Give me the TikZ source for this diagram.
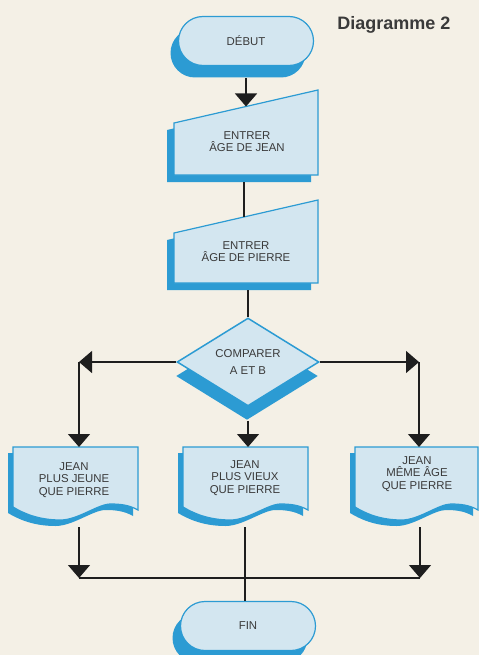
\documentclass[tikz,border=0pt]{standalone}
\usepackage{fontspec}
\setmainfont{Liberation Sans}
\usepackage{xcolor}
\definecolor{paper}{HTML}{F4F0E6}
\definecolor{pale}{HTML}{D3E6F0}
\definecolor{cyanb}{HTML}{2C9BD3}
\definecolor{ink}{HTML}{3A3A3A}
\definecolor{linec}{HTML}{1E1E1E}
\usetikzlibrary{positioning,arrows.meta,shapes.geometric,shapes.misc,shadows,calc}
\tikzset{
  >={Triangle[width=22pt,length=13pt]},
  txt/.style={font=\fontsize{11.4}{12.2}\selectfont,text=ink,align=center,inner sep=0pt},
  term/.style={rounded rectangle,draw=cyanb,fill=pale,line width=1.2pt,minimum width=135pt,
    minimum height=49pt,txt,drop shadow={shadow xshift=-8pt,shadow yshift=-12pt,fill=cyanb,opacity=1}},
  dec/.style={diamond,shape aspect=1.6,draw=cyanb,fill=pale,line width=1.5pt,minimum width=142pt,
    minimum height=88pt,txt,drop shadow={shadow xshift=-1pt,shadow yshift=-14pt,fill=cyanb,opacity=1}},
  inbox/.style={draw=cyanb,fill=pale,line width=1.2pt,
    drop shadow={shadow xshift=-7pt,shadow yshift=-7pt,fill=cyanb,opacity=1}},
  docbox/.style={draw=cyanb,fill=pale,line width=1.2pt,
    drop shadow={shadow xshift=-5pt,shadow yshift=-6pt,fill=cyanb,opacity=1}},
  flow/.style={->,draw=linec,line width=1.3pt},
  link/.style={draw=linec,line width=1.3pt},
}
\begin{document}
\begin{tikzpicture}[x=1pt,y=-1pt]
  \useasboundingbox (0,0) rectangle (479,655);
  \fill[paper] (0,0) rectangle (479,655);
  \node[font=\bfseries\fontsize{18}{20}\selectfont,text=ink,anchor=base] (title) at (394,30) {Diagramme 2};
  % start / end
  \node[term] (debut) at (246,41) {DÉBUT};
  \node[term] (fin) at (248,626) {FIN};
  % input boxes
  \filldraw[inbox] (174,123) -- (318,90) -- (318,175) -- (174,175) -- cycle;
  \filldraw[inbox] (174,233) -- (318,200) -- (318,283) -- (174,283) -- cycle;
  \node[txt] (jean) at (247,142) {ENTRER\\ÂGE DE JEAN};
  \node[txt] (pierre) at (246,252) {ENTRER\\ÂGE DE PIERRE};
  \coordinate (jean-n) at (246,106.5);
  \coordinate (jean-s) at (244,182);
  \coordinate (pierre-n) at (244,217);
  \coordinate (pierre-s) at (248,290);
  % decision
  \node[dec] (cmp) at (248,362) {COMPARER\\[4pt]A ET B};
  % result documents
  \foreach \L/\W in {13/125,183/125,355/123}{
    \begin{scope}[shift={(\L,447)}]
      \filldraw[docbox] (0,0) -- (\W,0) -- (\W,63)
        .. controls ({0.93*\W},58) and ({0.86*\W},57) .. ({0.78*\W},57)
        .. controls ({0.68*\W},57) and ({0.52*\W},73) .. ({0.38*\W},73)
        .. controls ({0.2*\W},73) and ({0.08*\W},66) .. (0,60) -- cycle;
    \end{scope}
  }
  \node[txt] (young) at (74,480) {JEAN\\PLUS JEUNE\\QUE PIERRE};
  \node[txt] (old) at (245,478) {JEAN\\PLUS VIEUX\\QUE PIERRE};
  \node[txt] (same) at (417,474) {JEAN\\MÊME ÂGE\\QUE PIERRE};
  \coordinate (lcorner) at (79,362);
  \coordinate (rcorner) at (419,362);
  \coordinate (young-n) at (79,447);
  \coordinate (old-n) at (248,447);
  \coordinate (same-n) at (419,447);
  \coordinate (young-s) at (79,527);
  \coordinate (old-s) at (245,527);
  \coordinate (same-s) at (420,527);
  \coordinate (join-l) at (79,578);
  \coordinate (join-r) at (420,578);
  % connectors
  \draw[flow] ([yshift=-12pt]debut.south) -- (jean-n);
  \draw[link] (jean-s) -- (pierre-n);
  \draw[link] (pierre-s) -- (cmp.north);
  \draw[flow] (cmp.west) -- (lcorner);
  \draw[flow] (lcorner) -- (young-n);
  \draw[flow] (cmp.east) -- (rcorner);
  \draw[flow] (rcorner) -- (same-n);
  \draw[flow] ([yshift=-14pt]cmp.south) -- (old-n);
  \draw[flow] (young-s) -- (join-l);
  \draw[flow] (same-s) -- (join-r);
  \draw[link] (join-l) -- (join-r);
  \draw[link] (old-s) -- (old-s |- fin.north);
\end{tikzpicture}
\end{document}
